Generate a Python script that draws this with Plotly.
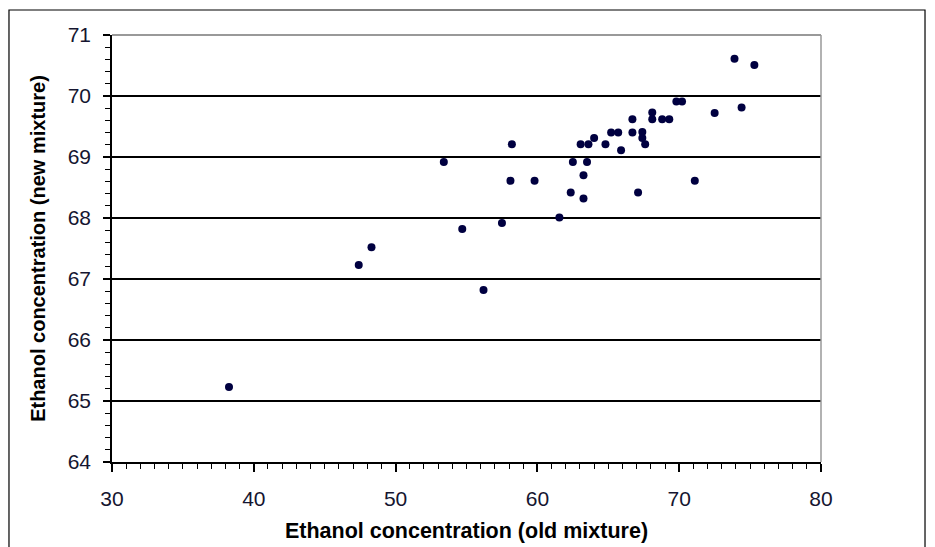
import plotly.graph_objects as go

old_mixture = [73.9, 75.3, 69.8, 70.2, 74.4, 72.5, 68.1, 68.1, 68.8, 69.3, 66.7,
               65.2, 65.7, 66.7, 67.4, 67.4, 67.6, 64.0, 63.05, 63.6, 64.8, 65.9,
               58.2, 53.4, 62.5, 63.5, 63.25, 58.1, 59.8, 71.1, 62.35, 67.1, 63.25,
               61.55, 57.5, 54.7, 48.3, 47.4, 56.2, 38.25]
new_mixture = [70.61, 70.51, 69.91, 69.91, 69.81, 69.72, 69.73, 69.62, 69.62, 69.62, 69.62,
               69.40, 69.40, 69.40, 69.41, 69.31, 69.21, 69.31, 69.21, 69.21, 69.21, 69.11,
               69.21, 68.92, 68.92, 68.92, 68.70, 68.61, 68.61, 68.61, 68.42, 68.42, 68.32,
               68.01, 67.92, 67.82, 67.52, 67.23, 66.82, 65.23]

x_ticks = [30, 40, 50, 60, 70, 80]
y_ticks = [64, 65, 66, 67, 68, 69, 70, 71]

font_family = "Liberation Sans, Arial, sans-serif"

fig = go.Figure()
fig.add_trace(go.Scatter(
    x=old_mixture, y=new_mixture, mode="markers",
    marker=dict(size=8, color="#000040", line=dict(width=0)),
    showlegend=False, cliponaxis=False,
))

fig.update_layout(
    width=935, height=547,
    margin=dict(l=112, r=114, t=35, b=85),
    paper_bgcolor="white", plot_bgcolor="white",
    font=dict(family=font_family, size=21, color="#151530"),
    xaxis=dict(
        range=[30, 80], tickvals=x_ticks, ticktext=[str(v) for v in x_ticks],
        showgrid=False, zeroline=False, automargin=False,
        showline=True, linecolor="black", linewidth=1.5,
        ticks="outside", ticklen=8, tickwidth=1.5, tickcolor="black",
        ticklabelstandoff=9, tickfont=dict(size=21),
        minor=dict(dtick=1, ticks="outside", ticklen=5, tickwidth=1.2, tickcolor="black", showgrid=False),
        title=dict(text="<b>Ethanol concentration (old mixture)</b>", font=dict(size=21.5, color="black"), standoff=14),
    ),
    yaxis=dict(
        range=[64, 71], tickvals=y_ticks, ticktext=[str(v) for v in y_ticks],
        showgrid=True, gridcolor="black", gridwidth=1.5, zeroline=False, automargin=False,
        showline=True, linecolor="black", linewidth=1.5,
        ticks="outside", ticklen=7, tickwidth=1.5, tickcolor="black",
        ticklabelstandoff=8, tickfont=dict(size=21),
        minor=dict(dtick=0.2, ticks="outside", ticklen=5, tickwidth=1.2, tickcolor="black", showgrid=False),
        title=dict(text="<b>Ethanol concentration (new mixture)</b>", font=dict(size=20, color="black"), standoff=17),
    ),
    shapes=[
        dict(type="line", xref="paper", yref="paper", x0=0, x1=1, y0=1, y1=1,
             line=dict(color="#999999", width=2), layer="above"),
        dict(type="line", xref="paper", yref="paper", x0=1, x1=1, y0=0, y1=1,
             line=dict(color="#999999", width=1.5), layer="above"),
        dict(type="rect", xref="paper", yref="paper", x0=-0.1453, x1=1.1467, y0=-0.25, y1=1.0585,
             line=dict(color="black", width=1.2), fillcolor="rgba(0,0,0,0)", layer="below"),
    ],
)

fig.write_html("out.html")
